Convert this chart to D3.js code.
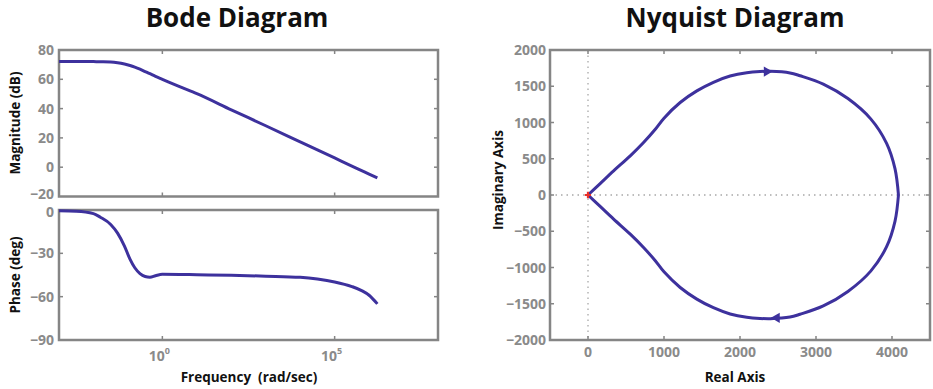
<!DOCTYPE html>
<html>
<head>
<meta charset="utf-8">
<script src="https://cdn.jsdelivr.net/npm/d3@7"></script>
<style>
  body { margin: 0; background: #fff; }
  text { font-family: "Open Sans", "Noto Sans", sans-serif; font-weight: bold; }
</style>
</head>
<body>
<svg id="chart" width="933" height="389"></svg>
<script>
// Bode data (frequency as log10 of rad/sec)
const freqExp   = [-3, -2.5, -2, -1.8, -1.5, -1.3, -1.1, -0.94, -0.8, -0.65, -0.5, -0.36, -0.2, 0, 0.5, 1, 2, 3, 4, 4.5, 5, 5.5, 5.8, 6, 6.24];
const magDb     = [72.2, 72.2, 72.1, 72.0, 71.8, 71.3, 70.4, 69.4, 68.3, 66.9, 65.3, 63.8, 62.0, 60.0, 55.0, 50.2, 39.2, 28.3, 17.3, 11.8, 6.3, 0.8, -2.5, -4.7, -7.3];
const phaseDeg  = [-0.5, -0.8, -2.5, -5, -10, -16, -25, -34, -40, -44, -46, -46.5, -45.5, -44.5, -44.6, -44.8, -45.2, -45.8, -46.6, -47.8, -49.8, -53, -56, -59, -65];

const magTicks   = [80, 60, 40, 20, 0, -20];
const phaseTicks = [0, -30, -60, -90];
const freqTickExp = [0, 5];

// Nyquist data: upper branch (negative frequencies), mirrored for the lower one
const nyqRe = [0, 160, 337, 556, 731, 880, 1000, 1213, 1432, 1650, 1870, 2089, 2264, 2400, 2658, 2790, 3096, 3420, 3720, 3929, 4040, 4085];
const nyqIm = [0, 158, 333, 540, 724, 900, 1060, 1276, 1436, 1555, 1641, 1687, 1703, 1706, 1684, 1645, 1530, 1330, 1050, 712, 360, 0];
const reTicks = [0, 1000, 2000, 3000, 4000];
const imTicks = [2000, 1500, 1000, 500, 0, -500, -1000, -1500, -2000];
const arrows = [
  { re: 2352, im: 1703, dir: 1 },
  { re: 2484, im: -1694, dir: -1 }
];

const lineColor = "#3d319d";
const frameColor = "#858585";
const tickText = "#8a8a8a";
const minus = v => String(v).replace("-", "\u2212");

const svg = d3.select("#chart");

// frame with inward ticks on all four sides
function drawFrame(g, x0, x1, y0, y1, xt, yt) {
  g.append("rect")
    .attr("x", x0).attr("y", y0)
    .attr("width", x1 - x0).attr("height", y1 - y0)
    .attr("fill", "none")
    .attr("stroke", frameColor)
    .attr("stroke-width", 2.5);
  const t = 4;
  xt.forEach(x => {
    g.append("line").attr("x1", x).attr("x2", x).attr("y1", y1).attr("y2", y1 - t)
      .attr("stroke", frameColor).attr("stroke-width", 1.5);
    g.append("line").attr("x1", x).attr("x2", x).attr("y1", y0).attr("y2", y0 + t)
      .attr("stroke", frameColor).attr("stroke-width", 1.5);
  });
  yt.forEach(y => {
    g.append("line").attr("x1", x0).attr("x2", x0 + t).attr("y1", y).attr("y2", y)
      .attr("stroke", frameColor).attr("stroke-width", 1.5);
    g.append("line").attr("x1", x1).attr("x2", x1 - t).attr("y1", y).attr("y2", y)
      .attr("stroke", frameColor).attr("stroke-width", 1.5);
  });
}

// ---------- Bode ----------
const bx = d3.scaleLog().domain([1e-3, 1e8]).range([59, 438]);
const ymag = d3.scaleLinear().domain([-20, 80]).range([196.5, 50]);
const yph = d3.scaleLinear().domain([-90, 0]).range([340, 210]);

const bode = freqExp.map((e, i) => ({ w: Math.pow(10, e), m: magDb[i], p: phaseDeg[i] }));
const freqTicks = freqTickExp.map(e => Math.pow(10, e));

const gb = svg.append("g");
drawFrame(gb, 59, 438, 50, 196.5, freqTicks.map(bx), magTicks.slice(1, -1).map(ymag));
drawFrame(gb, 59, 438, 210, 340, freqTicks.map(bx), phaseTicks.slice(1, -1).map(yph));

gb.append("path")
  .datum(bode)
  .attr("d", d3.line().x(d => bx(d.w)).y(d => ymag(d.m)).curve(d3.curveMonotoneX))
  .attr("fill", "none").attr("stroke", lineColor).attr("stroke-width", 3);

gb.append("path")
  .datum(bode)
  .attr("d", d3.line().x(d => bx(d.w)).y(d => yph(d.p)).curve(d3.curveMonotoneX))
  .attr("fill", "none").attr("stroke", lineColor).attr("stroke-width", 3);

// the -20 and 0 labels sit close together, as in the original; nudge them apart a little
gb.selectAll("text.mag").data(magTicks).enter().append("text")
  .attr("x", 54).attr("y", d => ymag(d) + (d === -20 ? 2 : 5))
  .attr("text-anchor", "end").attr("font-size", 14).attr("fill", tickText)
  .text(minus);

gb.selectAll("text.ph").data(phaseTicks).enter().append("text")
  .attr("x", 54).attr("y", d => yph(d) + (d === 0 ? 7 : 5))
  .attr("text-anchor", "end").attr("font-size", 14).attr("fill", tickText)
  .text(minus);

const ftl = gb.selectAll("text.f").data(freqTickExp).enter().append("text")
  .attr("x", d => bx(Math.pow(10, d)) - 3).attr("y", 361)
  .attr("text-anchor", "middle").attr("font-size", 14).attr("fill", tickText);
ftl.append("tspan").text("10");
ftl.append("tspan").attr("dy", -7).attr("font-size", 9).text(d => d);

gb.append("text").attr("x", 237).attr("y", 27)
  .attr("text-anchor", "middle").attr("font-size", 26).attr("fill", "#111")
  .text("Bode Diagram");
gb.append("text").attr("x", 249).attr("y", 382)
  .attr("text-anchor", "middle").attr("font-size", 13.5).attr("fill", "#111")
  .attr("xml:space", "preserve")
  .text("Frequency  (rad/sec)");
gb.append("text").attr("transform", "translate(20,123) rotate(-90)")
  .attr("text-anchor", "middle").attr("font-size", 13.5).attr("fill", "#111")
  .text("Magnitude (dB)");
gb.append("text").attr("transform", "translate(20,275) rotate(-90)")
  .attr("text-anchor", "middle").attr("font-size", 13.5).attr("fill", "#111")
  .text("Phase (deg)");

// ---------- Nyquist ----------
const nx = d3.scaleLinear().domain([-500, 4500]).range([550, 930]);
const ny = d3.scaleLinear().domain([-2000, 2000]).range([340, 50]);

const gn = svg.append("g");

gn.append("line").attr("x1", nx(0)).attr("x2", nx(0)).attr("y1", ny(2000)).attr("y2", ny(-2000))
  .attr("stroke", "#a8a8a8").attr("stroke-width", 1.3).attr("stroke-dasharray", "1.5,4");
gn.append("line").attr("x1", nx(-500)).attr("x2", nx(4500)).attr("y1", ny(0)).attr("y2", ny(0))
  .attr("stroke", "#a8a8a8").attr("stroke-width", 1.3).attr("stroke-dasharray", "1.5,4");

drawFrame(gn, 550, 930, 50, 340, reTicks.map(nx), imTicks.slice(1, -1).map(ny));

const upper = nyqRe.map((r, i) => [r, nyqIm[i]]);
const lower = upper.map(([r, m]) => [r, -m]);
const nline = d3.line().x(d => nx(d[0])).y(d => ny(d[1])).curve(d3.curveCatmullRom);

[upper, lower].forEach(pts => {
  gn.append("path").datum(pts).attr("d", nline)
    .attr("fill", "none").attr("stroke", lineColor).attr("stroke-width", 3);
});

gn.selectAll("path.arrow").data(arrows).enter().append("path")
  .attr("d", d3.symbol().type(d3.symbolTriangle).size(45))
  .attr("transform", d => `translate(${nx(d.re)},${ny(d.im)}) rotate(${d.dir > 0 ? 90 : -90})`)
  .attr("fill", lineColor);

// critical point marker
gn.append("path").attr("d", d3.symbol().type(d3.symbolCross).size(22))
  .attr("transform", `translate(${nx(-1)},${ny(0)})`)
  .attr("fill", "#e8302a");

gn.selectAll("text.re").data(reTicks).enter().append("text")
  .attr("x", nx).attr("y", 357)
  .attr("text-anchor", "middle").attr("font-size", 14).attr("fill", tickText)
  .text(minus);
gn.selectAll("text.im").data(imTicks).enter().append("text")
  .attr("x", 546).attr("y", d => ny(d) + 5)
  .attr("text-anchor", "end").attr("font-size", 14).attr("fill", tickText)
  .text(minus);

gn.append("text").attr("x", 735).attr("y", 27)
  .attr("text-anchor", "middle").attr("font-size", 26).attr("fill", "#111")
  .text("Nyquist Diagram");
gn.append("text").attr("x", 735).attr("y", 382)
  .attr("text-anchor", "middle").attr("font-size", 13.5).attr("fill", "#111")
  .text("Real Axis");
gn.append("text").attr("transform", "translate(503,180) rotate(-90)")
  .attr("text-anchor", "middle").attr("font-size", 13.5).attr("fill", "#111")
  .text("Imaginary Axis");
</script>
</body>
</html>
